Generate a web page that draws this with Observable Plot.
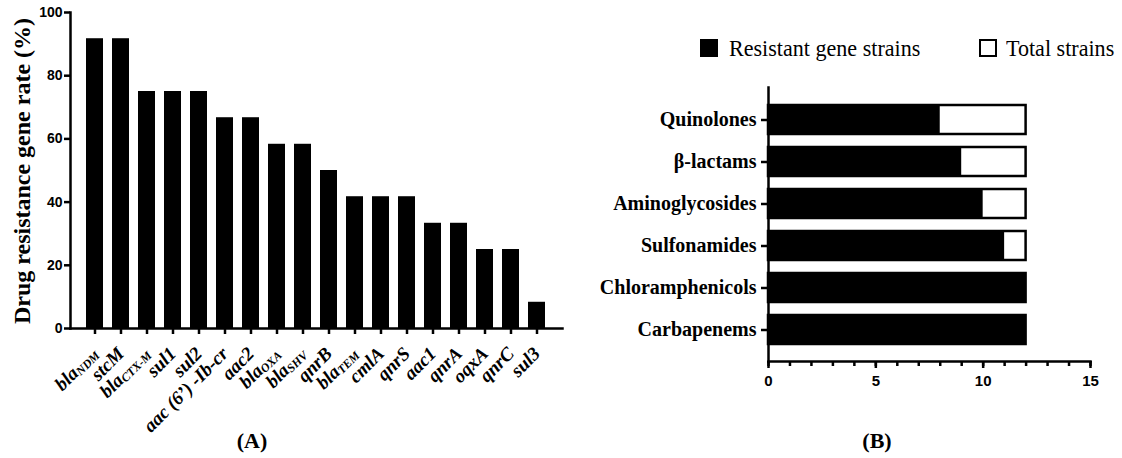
<!DOCTYPE html>
<html><head><meta charset="utf-8">
<script src="https://cdn.jsdelivr.net/npm/d3@7"></script>
<script src="https://cdn.jsdelivr.net/npm/@observablehq/plot@0.6"></script>
<style>
body{margin:0;background:#fff;}
#wrap{position:relative;width:1122px;height:458px;overflow:hidden;background:#fff;}
.panel{position:absolute;top:0;}
.cap{position:absolute;font:bold 22px "Liberation Serif","Times New Roman",serif;transform:translate(-50%,-50%);white-space:nowrap;}
.ylab{position:absolute;font:bold 24px "Liberation Serif","Times New Roman",serif;white-space:nowrap;transform:translate(-50%,-50%) rotate(-90deg);}
.leg{position:absolute;font:23px "Liberation Serif","Times New Roman",serif;white-space:nowrap;line-height:1;transform-origin:0 50%;transform:scaleX(0.96);}
.sw{position:absolute;box-sizing:border-box;}
</style></head>
<body><div id="wrap"></div>
<script>
// ---- Panel A data ----
const geneBase = ["bla","stcM","bla","sul1","sul2","aac (6’) -Ib-cr","aac2","bla","bla","qnrB","bla","cmlA","qnrS","aac1","qnrA","oqxA","qnrC","sul3"];
const geneSub  = ["NDM","","CTX-M","","","","","OXA","SHV","","TEM","","","","","","",""];
const geneRate = [91.7,91.7,75,75,75,66.7,66.7,58.3,58.3,50,41.7,41.7,41.7,33.3,33.3,25,25,8.3];
const rateTicks = [0,20,40,60,80,100];
const rateLabel = "Drug resistance gene rate (%)";

// ---- Panel B data ----
const drugClasses = ["Quinolones","β-lactams","Aminoglycosides","Sulfonamides","Chloramphenicols","Carbapenems"];
const resistantStrains = [8,9,10,11,12,12];
const totalStrains = [12,12,12,12,12,12];
const strainTicks = [0,5,10,15];
const legendLabels = ["Resistant gene strains","Total strains"];
const captions = ["(A)","(B)"];

const wrap = document.getElementById("wrap");
const serif = "Liberation Serif, Times New Roman, serif";
const sans = "Liberation Sans, Arial, sans-serif";

const geneData = geneBase.map((b,i)=>({key:b+geneSub[i], base:b, sub:geneSub[i], rate:geneRate[i]}));

const chartA = Plot.plot({
  width: 562, height: 420,
  marginLeft: 70, marginRight: 0, marginTop: 12, marginBottom: 92,
  style: {background:"white", color:"black", overflow:"visible"},
  x: {domain: geneData.map(d=>d.key), paddingInner: 0.33, paddingOuter: 0.45, label: null},
  y: {domain:[0,100], label:null},
  marks: [
    Plot.barY(geneData, {x:"key", y:"rate", fill:"black"}),
    Plot.axisY({ticks: rateTicks, tickSize:6, tickPadding:2, fontSize:14, fontWeight:"bold", fontFamily:sans, strokeWidth:2.5, label:null}),
    Plot.axisX({tickSize:6, tickRotate:-45, tickPadding:16, strokeWidth:2.5, fontSize:19, fontWeight:"bold", fontStyle:"italic", fontFamily:serif, label:null}),
    Plot.frame({anchor:"left", strokeWidth:2.5}),
    Plot.frame({anchor:"bottom", strokeWidth:2.5})
  ]
});
d3.select(chartA).selectAll('g[aria-label="x-axis tick label"] text').each(function(){
  const key = this.textContent;
  const g = geneData.find(d=>d.key===key);
  if (!g || !g.sub) return;
  const t = d3.select(this); t.text(null);
  t.append("tspan").text(g.base);
  t.append("tspan").attr("font-size", 12).attr("dy","0.15em").text(g.sub);
});
chartA.classList.add("panel");
chartA.style.left = "0px";
wrap.appendChild(chartA);

const classData = drugClasses.map((c,i)=>({cls:c, res:resistantStrains[i], total:totalStrains[i]}));
const chartB = Plot.plot({
  width: 542, height: 420,
  marginLeft: 188, marginRight: 32, marginTop: 87, marginBottom: 59,
  style: {background:"transparent", color:"black", overflow:"visible"},
  x: {domain:[0,15], label:null},
  y: {domain: drugClasses, paddingInner:0.32, paddingOuter:0.36, label:null},
  marks: [
    Plot.barX(classData, {y:"cls", x:"total", fill:"white", stroke:"black", strokeWidth:2.5}),
    Plot.barX(classData, {y:"cls", x:"res", fill:"black"}),
    Plot.axisX({ticks: d3.range(0,16), tickSize:5, tickFormat: () => "", strokeWidth:2.5, label:null}),
    Plot.axisX({ticks: strainTicks, tickSize:7, tickPadding:7, strokeWidth:2.5, fontSize:15, fontWeight:"bold", fontFamily:sans, label:null}),
    Plot.axisY({tickSize:7, tickPadding:5, strokeWidth:2.5, fontSize:20, fontWeight:"bold", fontFamily:serif, label:null}),
    Plot.frame({anchor:"left", strokeWidth:2.5}),
    Plot.frame({anchor:"bottom", strokeWidth:2.5})
  ]
});
chartB.classList.add("panel");
chartB.style.left = "580px";
wrap.appendChild(chartB);

// y-axis title for A
const yl = document.createElement("div");
yl.className = "ylab"; yl.textContent = rateLabel;
yl.style.left = "22px"; yl.style.top = "171px";
wrap.appendChild(yl);

// legend
function addSwatch(x, y, filled){
  const s = document.createElement("div");
  s.className = "sw";
  s.style.left = x+"px"; s.style.top = y+"px";
  s.style.width = "18px"; s.style.height = "18px";
  s.style.background = filled ? "black" : "white";
  s.style.border = "2.5px solid black";
  wrap.appendChild(s);
}
function addLegText(x, y, t){
  const d = document.createElement("div");
  d.className = "leg"; d.textContent = t;
  d.style.left = x+"px"; d.style.top = y+"px";
  wrap.appendChild(d);
}
addSwatch(700, 39, true);
addLegText(729, 37, legendLabels[0]);
addSwatch(979, 39, false);
addLegText(1006, 37, legendLabels[1]);

// captions
[[252,441],[877,441]].forEach((p,i)=>{
  const c = document.createElement("div");
  c.className = "cap"; c.textContent = captions[i];
  c.style.left = p[0]+"px"; c.style.top = p[1]+"px";
  wrap.appendChild(c);
});
</script>
</body></html>
